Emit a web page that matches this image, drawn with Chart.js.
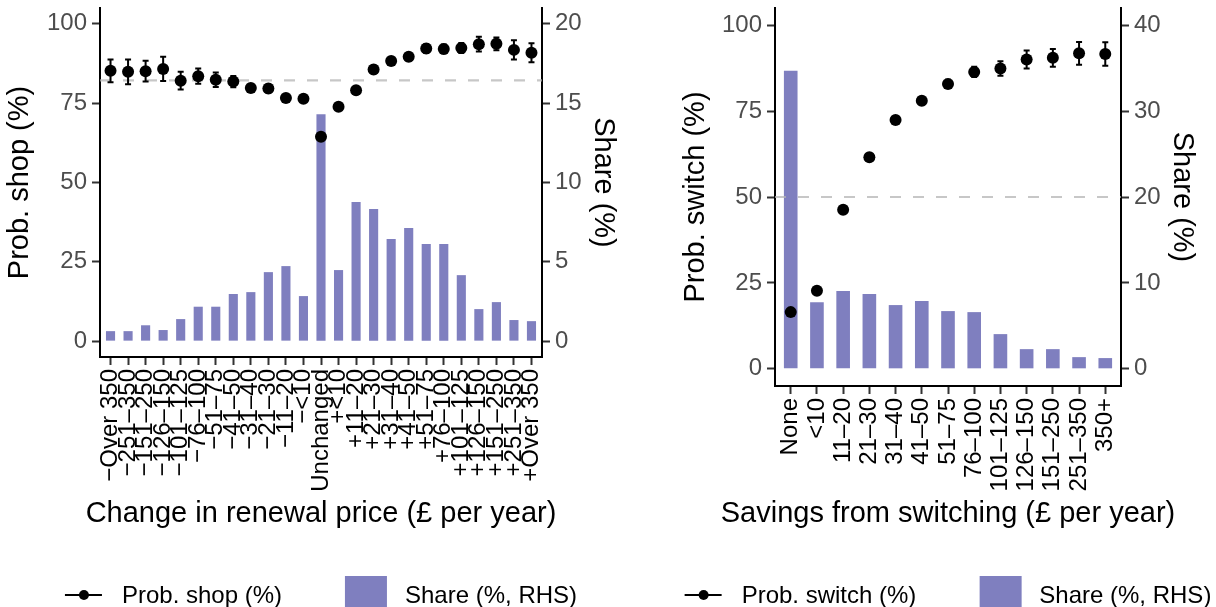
<!DOCTYPE html>
<html>
<head>
<meta charset="utf-8">
<title>Shopping around and switching</title>
<script src="https://cdn.jsdelivr.net/npm/chart.js@4.4.1/dist/chart.umd.min.js"></script>
<style>
    html, body { margin: 0; padding: 0; background: #fff; width: 1216px; height: 607px; overflow: hidden; }
    .panel { position: absolute; top: 0; height: 607px; }
    .legend {
        position: absolute; top: 576px; height: 37px;
        display: flex; align-items: center; white-space: nowrap;
        transform: translateX(-50%);
        font: 24px "Liberation Sans", Arial, sans-serif; line-height: 1; color: #000;
    }
    .key-point { position: relative; width: 37px; height: 2px; background: #000; margin-right: 20px; }
    .key-point::after {
        content: ''; position: absolute; left: 50%; top: 50%;
        width: 10px; height: 10px; margin: -5px 0 0 -5px; border-radius: 50%; background: #000;
    }
    .key-bar { width: 42px; height: 37px; margin-left: 63px; margin-right: 18px; }
</style>
</head>
<body>
<div class="panel" style="left:0;width:642px">
    <canvas id="shopChart" width="642" height="607"></canvas>
    <div class="legend" id="shopLegend"></div>
</div>
<div class="panel" style="left:642px;width:574px">
    <canvas id="switchChart" width="574" height="607"></canvas>
    <div class="legend" id="switchLegend"></div>
</div>
<script>
// renewal price change buckets and who shopped around
const priceChanges = ['−Over 350', '−251–350', '−151–250', '−126–150', '−101–125', '−76–100', '−51–75',
    '−41–50', '−31–40', '−21–30', '−11–20', '−<10', 'Unchanged', '+<10', '+11–20', '+21–30', '+31–40',
    '+41–50', '+51–75', '+76–100', '+101–125', '+126–150', '+151–250', '+251–350', '+Over 350'];
const probShop = [85.2, 84.9, 85.1, 85.8, 82.1, 83.5, 82.4, 81.8, 79.8, 79.6, 76.6, 76.4, 64.4,
    73.9, 79.1, 85.6, 88.3, 89.6, 92.2, 92.1, 92.4, 93.6, 93.7, 91.8, 90.9];
const probShopErr = [3.6, 3.9, 3.3, 3.8, 2.8, 2.4, 2.3, 1.8, 1.2, 1.2, 1.0, 1.0, 0.8,
    1.0, 1.0, 1.2, 1.2, 1.2, 1.4, 1.4, 1.6, 2.3, 2.0, 3.0, 3.0];
const shopShare = [0.63, 0.63, 1.0, 0.7, 1.39, 2.17, 2.17, 2.97, 3.09, 4.35, 4.73, 2.84, 14.3,
    4.48, 8.77, 8.33, 6.44, 7.13, 6.12, 6.12, 4.16, 2.02, 2.46, 1.33, 1.26];
const shopAverage = 82.2;
const shopProbTicks = [0, 25, 50, 75, 100];
const shopShareTicks = [0, 5, 10, 15, 20];

// savings on offer and who switched
const savings = ['None', '<10', '11–20', '21–30', '31–40', '41–50', '51–75', '76–100',
    '101–125', '126–150', '151–250', '251–350', '350+'];
const probSwitch = [16.5, 22.7, 46.3, 61.6, 72.4, 78.0, 82.9, 86.4, 87.4, 90.0, 90.5, 91.8, 91.6];
const probSwitchErr = [0.8, 0.9, 1.0, 1.0, 1.0, 1.1, 1.2, 1.5, 2.1, 2.6, 2.6, 3.3, 3.4];
const switchShare = [34.7, 7.76, 9.05, 8.7, 7.42, 7.88, 6.72, 6.6, 4.04, 2.29, 2.29, 1.36, 1.25];
const switchAverage = 50;
const switchProbTicks = [0, 25, 50, 75, 100];
const switchShareTicks = [0, 10, 20, 30, 40];

const fontFamily = '"Liberation Sans", Arial, sans-serif';
Chart.defaults.font.family = fontFamily;

// dashed average line and the error bars go on top of the bars but under the points
const markers = {
    id: 'markers',
    afterDatasetDraw(chart, args, opts) {
        if (args.meta.type !== 'bar') return;
        const { ctx, chartArea, scales: { x, y } } = chart;
        ctx.save();
        const yRef = y.getPixelForValue(opts.level);
        ctx.strokeStyle = 'rgba(180, 180, 180, 0.75)';
        ctx.lineWidth = 2.2;
        ctx.setLineDash([11, 12]);
        ctx.beginPath();
        ctx.moveTo(chartArea.left, yRef);
        ctx.lineTo(chartArea.right, yRef);
        ctx.stroke();

        const pts = chart.data.datasets[0];
        ctx.setLineDash([]);
        ctx.strokeStyle = '#000';
        ctx.lineWidth = 2;
        pts.data.forEach((p, i) => {
            const e = pts.errors[i];
            const px = x.getPixelForValue(p.x);
            const top = y.getPixelForValue(p.y + e);
            const bot = y.getPixelForValue(p.y - e);
            ctx.beginPath();
            ctx.moveTo(px, top); ctx.lineTo(px, bot);
            ctx.moveTo(px - 3, top); ctx.lineTo(px + 3, top);
            ctx.moveTo(px - 3, bot); ctx.lineTo(px + 3, bot);
            ctx.stroke();
        });
        ctx.restore();
    }
};

// x title drawn by hand: the built-in one gets squeezed to the axis width
const xTitle = {
    id: 'xTitle',
    afterDraw(chart, args, opts) {
        const { ctx, chartArea, scales: { x } } = chart;
        ctx.save();
        ctx.font = '29px ' + fontFamily;
        ctx.fillStyle = '#000';
        ctx.textAlign = 'center';
        ctx.textBaseline = 'middle';
        ctx.fillText(opts.text, (chartArea.left + chartArea.right) / 2, x.bottom - 17.4);
        ctx.restore();
    }
};

// legend as html under the panel, centred on the plotting area
const htmlLegend = {
    id: 'htmlLegend',
    afterUpdate(chart, args, opts) {
        const box = document.getElementById(opts.containerID);
        box.innerHTML = '';
        const items = chart.options.plugins.legend.labels.generateLabels(chart);
        items.forEach(item => {
            const ds = chart.data.datasets[item.datasetIndex];
            const key = document.createElement('span');
            if (ds.type === 'bar') {
                key.className = 'key-bar';
                key.style.background = item.fillStyle;
            } else {
                key.className = 'key-point';
            }
            const text = document.createElement('span');
            text.textContent = item.text;
            box.appendChild(key);
            box.appendChild(text);
        });
        box.style.left = ((chart.chartArea.left + chart.chartArea.right) / 2) + 'px';
    }
};

function fixedTicks(values) {
    return scale => { scale.ticks = values.map(v => ({ value: v })); };
}

function makePanel(canvasId, legendId, cats, prob, err, share, average, probTicks, shareTicks, probLabel, xLabel, o) {
    const shareMax = shareTicks[shareTicks.length - 1];
    const tickGrid = { drawOnChartArea: false, tickLength: 8, tickWidth: 2, tickColor: '#333', offset: false };
    const axisBorder = { display: true, color: '#000', width: 2 };
    const yTickFont = { font: { size: 24 }, color: '#4d4d4d', padding: 5 };

    return new Chart(document.getElementById(canvasId), {
        type: 'bar',
        data: {
            datasets: [{
                type: 'line',
                label: probLabel,
                data: prob.map((v, i) => ({ x: i, y: v })),
                errors: err,
                yAxisID: 'y',
                showLine: false,
                pointRadius: 6,
                pointBorderWidth: 0,
                pointBackgroundColor: '#000',
                backgroundColor: '#000',
                borderColor: '#000',
                order: 0
            }, {
                type: 'bar',
                label: 'Share (%, RHS)',
                data: share.map((v, i) => ({ x: i, y: v })),
                yAxisID: 'y1',
                backgroundColor: '#7f7fbf',
                barPercentage: 0.52,
                categoryPercentage: 1,
                order: 1
            }]
        },
        options: {
            responsive: false,
            animation: false,
            layout: { padding: { top: 8, bottom: 75.6, left: 0, right: 0 } },
            plugins: {
                legend: { display: false },
                tooltip: { enabled: false },
                htmlLegend: { containerID: legendId },
                markers: { level: average },
                xTitle: { text: xLabel }
            },
            scales: {
                x: {
                    type: 'linear',
                    min: -0.6,
                    max: cats.length - 0.4,
                    offset: false,
                    afterBuildTicks: scale => { scale.ticks = cats.map((c, i) => ({ value: i })); },
                    afterFit: scale => {
                        scale.height = o.xHeight;
                        scale.paddingLeft = scale.paddingRight = 0;
                    },
                    ticks: {
                        autoSkip: false, minRotation: 90, maxRotation: 90,
                        callback: v => cats[v],
                        font: { size: 24 }, color: '#000', padding: 4
                    },
                    grid: tickGrid,
                    border: axisBorder
                },
                y: {
                    position: 'left',
                    min: -5,
                    max: 105,
                    afterBuildTicks: fixedTicks(probTicks),
                    afterFit: scale => {
                        scale.width = o.leftWidth;
                        scale.paddingTop = scale.paddingBottom = 0;
                    },
                    ticks: yTickFont,
                    grid: tickGrid,
                    border: axisBorder,
                    title: { display: true, text: probLabel, font: { size: 29 }, color: '#000', padding: { top: o.leftTitlePad } }
                },
                y1: {
                    position: 'right',
                    min: -shareMax * 0.05,
                    max: shareMax * 1.05,
                    afterBuildTicks: fixedTicks(shareTicks),
                    afterFit: scale => {
                        scale.width = o.rightWidth;
                        scale.paddingTop = scale.paddingBottom = 0;
                    },
                    ticks: yTickFont,
                    grid: tickGrid,
                    border: axisBorder,
                    title: { display: true, text: 'Share (%)', font: { size: 29 }, color: '#000', padding: { top: o.rightTitlePad } }
                }
            }
        },
        plugins: [markers, xTitle, htmlLegend]
    });
}

makePanel('shopChart', 'shopLegend', priceChanges, probShop, probShopErr, shopShare, shopAverage,
    shopProbTicks, shopShareTicks, 'Prob. shop (%)', 'Change in renewal price (£ per year)',
    { xHeight: 174.4, leftWidth: 100, rightWidth: 100, leftTitlePad: 2.6, rightTitlePad: 21.6 });

makePanel('switchChart', 'switchLegend', savings, probSwitch, probSwitchErr, switchShare, switchAverage,
    switchProbTicks, switchShareTicks, 'Prob. switch (%)', 'Savings from switching (£ per year)',
    { xHeight: 145.4, leftWidth: 133, rightWidth: 95, leftTitlePad: 36.6, rightTitlePad: 16.6 });
</script>
</body>
</html>
